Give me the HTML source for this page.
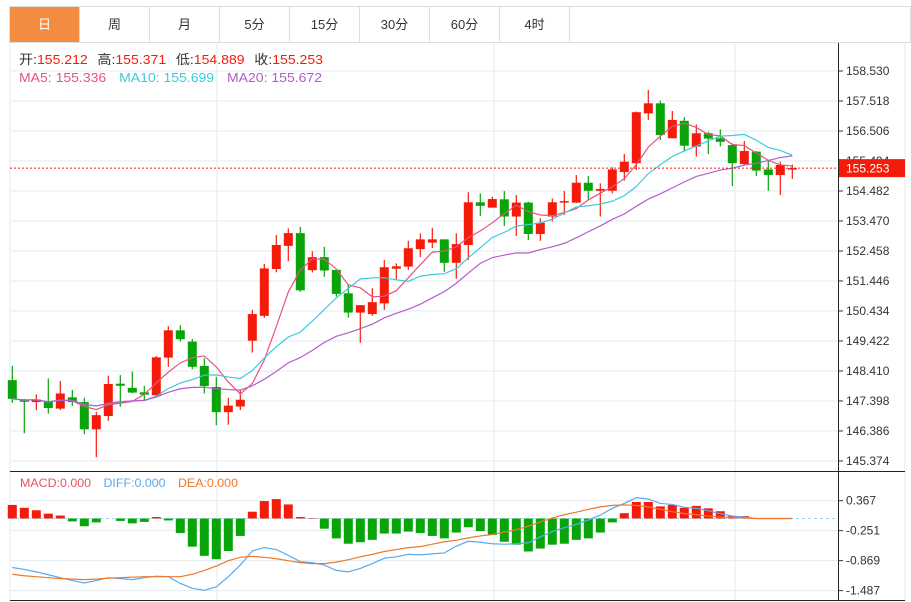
<!DOCTYPE html>
<html><head><meta charset="utf-8"><style>
body{margin:0;background:#fff;width:911px;height:602px;overflow:hidden;font-family:"Liberation Sans","Noto Sans CJK SC",sans-serif}
#tabs{position:absolute;left:9px;top:6px;height:37px;display:flex;border:1px solid #ddd;width:902px;box-sizing:border-box}
.tab{width:70px;height:35px;line-height:35px;text-align:center;font-size:13px;color:#333;border-right:1px solid #ddd;box-sizing:border-box}
.tab.on{background:#f28c3f;color:#fff}
svg{position:absolute;left:0;top:0}
</style></head><body>
<div id="tabs">
<div class="tab on">日</div>
<div class="tab">周</div>
<div class="tab">月</div>
<div class="tab">5分</div>
<div class="tab">15分</div>
<div class="tab">30分</div>
<div class="tab">60分</div>
<div class="tab">4时</div>
</div>
<svg id="c" width="911" height="602"></svg>
<script>
const opens=[148.10,147.42,147.36,147.39,147.14,147.52,147.36,146.44,146.89,147.98,147.84,147.69,147.59,148.86,149.78,149.40,148.58,147.87,147.02,147.21,149.43,150.27,151.85,152.63,153.06,151.81,152.25,151.82,151.03,150.38,150.33,150.69,151.86,151.93,152.52,152.74,152.85,152.06,152.66,154.10,153.92,154.20,153.62,154.09,153.03,153.62,154.09,154.09,154.76,154.49,154.49,155.12,155.42,157.10,157.44,156.26,156.85,155.98,156.43,156.26,156.03,155.39,155.81,155.21,155.02,155.212];
const highs=[148.58,147.47,147.62,148.16,148.07,147.77,147.51,147.03,148.25,148.27,148.39,147.91,148.91,149.92,149.95,149.49,148.84,148.21,147.50,147.77,150.47,152.02,153.00,153.22,153.27,152.45,152.60,151.82,151.31,150.63,151.20,152.15,152.04,152.80,153.05,153.24,152.85,153.05,154.44,154.40,154.29,154.48,154.35,154.12,153.56,154.23,154.48,155.02,154.99,154.74,155.28,155.73,157.16,157.89,157.53,157.18,156.97,156.73,156.48,156.56,156.09,156.17,155.83,155.53,155.47,155.371];
const lows=[147.34,146.31,147.09,146.97,147.09,147.23,146.28,145.50,146.73,147.20,147.66,147.43,147.52,148.55,149.40,148.47,147.65,146.58,146.60,147.09,149.03,150.20,151.74,152.11,151.08,151.73,151.59,150.92,150.21,149.36,150.27,150.47,151.50,151.82,152.25,152.56,151.76,151.52,152.15,153.64,153.92,153.30,152.96,152.83,152.80,153.45,153.67,154.07,154.16,153.62,154.40,154.83,155.19,156.88,156.20,156.26,155.81,155.64,155.73,155.98,154.65,155.36,154.99,154.49,154.35,154.889];
const closes=[147.47,147.39,147.45,147.16,147.65,147.36,146.44,146.92,147.97,147.91,147.68,147.61,148.87,149.78,149.48,148.55,147.90,147.02,147.24,147.44,150.33,151.87,152.66,153.06,151.13,152.25,151.80,151.01,150.38,150.63,150.73,151.91,151.94,152.55,152.85,152.85,152.06,152.69,154.10,153.98,154.21,153.62,154.09,153.03,153.41,154.10,154.14,154.76,154.49,154.55,155.21,155.47,157.14,157.44,156.37,156.88,156.01,156.43,156.25,156.14,155.42,155.83,155.17,155.02,155.36,155.253];
const macdHist=[0.28,0.22,0.17,0.10,0.06,-0.06,-0.16,-0.08,0.00,-0.05,-0.10,-0.07,0.03,-0.04,-0.30,-0.58,-0.77,-0.84,-0.67,-0.36,0.14,0.36,0.40,0.29,0.03,0.01,-0.21,-0.41,-0.52,-0.49,-0.44,-0.31,-0.31,-0.27,-0.30,-0.36,-0.41,-0.29,-0.18,-0.26,-0.34,-0.48,-0.54,-0.68,-0.62,-0.54,-0.52,-0.44,-0.41,-0.29,-0.08,0.11,0.34,0.34,0.25,0.28,0.22,0.26,0.21,0.15,0.05,0.05,0.01,0.00,0.00,0.00];
const diffVals=[-1.01,-1.05,-1.10,-1.16,-1.22,-1.28,-1.33,-1.28,-1.22,-1.24,-1.26,-1.22,-1.19,-1.20,-1.34,-1.44,-1.48,-1.41,-1.20,-0.96,-0.67,-0.60,-0.64,-0.76,-0.89,-0.91,-0.96,-1.07,-1.10,-1.03,-0.93,-0.82,-0.79,-0.74,-0.75,-0.73,-0.71,-0.57,-0.47,-0.49,-0.52,-0.53,-0.52,-0.50,-0.38,-0.27,-0.19,-0.12,-0.03,0.07,0.21,0.31,0.43,0.40,0.31,0.29,0.23,0.21,0.16,0.10,0.05,0.03,0.00,0.00,0.00,0.00];
const deaVals=[-1.15,-1.18,-1.20,-1.22,-1.24,-1.25,-1.26,-1.25,-1.23,-1.22,-1.21,-1.20,-1.20,-1.20,-1.20,-1.15,-1.07,-0.98,-0.87,-0.80,-0.78,-0.80,-0.83,-0.87,-0.91,-0.93,-0.93,-0.90,-0.85,-0.79,-0.74,-0.68,-0.64,-0.60,-0.58,-0.53,-0.48,-0.45,-0.40,-0.36,-0.33,-0.28,-0.23,-0.16,-0.07,0.01,0.08,0.13,0.19,0.24,0.27,0.28,0.27,0.24,0.19,0.14,0.10,0.08,0.05,0.03,0.02,0.01,0.00,0.00,0.00,0.00];
const priceTicks=[158.530,157.518,156.506,155.494,154.482,153.470,152.458,151.446,150.434,149.422,148.410,147.398,146.386,145.374];
const macdTicks=[0.367,-0.251,-0.869,-1.487];
const lastPrice=155.253;

const NS='http://www.w3.org/2000/svg';
const svg=document.getElementById('c');
function el(tag,attrs,parent){const e=document.createElementNS(NS,tag);for(const k in attrs)e.setAttribute(k,attrs[k]);(parent||svg).appendChild(e);return e;}
const xAt=i=>12.3+12*i;
const yP=p=>71+(158.53-p)*29.64;
const yM=v=>518.5-v*48.5;
const RED='#f41b0b',GREEN='#08a40a';

const grid=el('g',{});


priceTicks.forEach(t=>el('line',{x1:10,x2:838,y1:yP(t),y2:yP(t),stroke:'#e3ebf2','stroke-width':1},grid));
macdTicks.forEach(t=>el('line',{x1:10,x2:838,y1:yM(t),y2:yM(t),stroke:'#e3ebf2','stroke-width':1},grid));
[217,494,735].forEach(x=>el('line',{x1:x,x2:x,y1:43,y2:601,stroke:'#e3ebf2','stroke-width':1},grid));
el('line',{x1:10,x2:10,y1:43,y2:601,stroke:'#e3ebf2'},grid);
el('line',{x1:905,x2:905,y1:43,y2:601,stroke:'#e3ebf2'},grid);
el('line',{x1:838.5,x2:838.5,y1:43,y2:601,stroke:'#222'},grid);
el('line',{x1:10,x2:905,y1:471.5,y2:471.5,stroke:'#222'},grid);
el('line',{x1:10,x2:905,y1:600.5,y2:600.5,stroke:'#222'},grid);

const pax=el('g',{'font-size':12,fill:'#333'});


priceTicks.forEach(t=>{const y=yP(t);el('line',{x1:838,x2:843,y1:y,y2:y,stroke:'#333'},pax);const tx=el('text',{x:846,y:y+4},pax);tx.textContent=t.toFixed(3);});
const max=el('g',{'font-size':12,fill:'#333'});


macdTicks.forEach(t=>{const y=yM(t);el('line',{x1:838,x2:843,y1:y,y2:y,stroke:'#333'},max);const tx=el('text',{x:846,y:y+4},max);tx.textContent=t.toFixed(3);});

const cg=el('g',{});


for(let i=0;i<closes.length;i++){
  const up=closes[i]>=opens[i],c=up?RED:GREEN,x=xAt(i);
  const g=el('g',{},cg);
  
  
  el('line',{x1:x,x2:x,y1:yP(highs[i]),y2:yP(lows[i]),stroke:c,'stroke-width':1.2},g);
  const t=yP(Math.max(opens[i],closes[i])),b=yP(Math.min(opens[i],closes[i]));
  el('rect',{x:x-4.5,y:t,width:9,height:Math.max(1.5,b-t),fill:c},g);
}
function ma(n){return closes.map((_,i)=>{const s=Math.max(0,i-n+1);let sum=0;for(let k=s;k<=i;k++)sum+=closes[k];return sum/(i-s+1);});}
[[5,'#e8527f','ma5-line'],[10,'#3ccbdc','ma10-line'],[20,'#b45ccc','ma20-line']].forEach(([n,col,name])=>{
  const v=ma(n);const p=el('path',{d:v.map((m,i)=>(i?'L':'M')+xAt(i)+','+yP(m)).join(''),fill:'none',stroke:col,'stroke-width':1.2});
  
  
});
const lp=el('line',{x1:10,x2:838,y1:yP(lastPrice),y2:yP(lastPrice),stroke:RED,'stroke-dasharray':'2,2'});


const lb=el('rect',{x:839,y:yP(lastPrice)-9,width:66,height:18,fill:RED});


const lt=el('text',{x:846,y:yP(lastPrice)+4.5,'font-size':12,fill:'#fff'});lt.textContent=lastPrice.toFixed(3);

const hg=el('g',{});


el('line',{x1:10,x2:838,y1:yM(0),y2:yM(0),stroke:'#9fd8ee','stroke-dasharray':'3,3'},hg);
macdHist.forEach((v,i)=>{
  const y0=yM(0),y1=yM(v);
  const r=el('rect',{x:xAt(i)-4.5,y:Math.min(y0,y1),width:9,height:Math.abs(y1-y0),fill:v>=0?RED:GREEN},hg);
  
  
});
[[diffVals,'#5aa9ef','diff-line'],[deaVals,'#f0782a','dea-line']].forEach(([arr,col,name])=>{
  const p=el('path',{d:arr.map((v,i)=>(i?'L':'M')+xAt(i)+','+yM(v)).join(''),fill:'none',stroke:col,'stroke-width':1.2});
  
  
});
</script>
<svg width="911" height="602" style="pointer-events:none">
<g font-size="13" font-family="Liberation Sans, Noto Sans CJK SC, sans-serif">
<text x="19" y="64" textLength="304" lengthAdjust="spacingAndGlyphs"><tspan fill="#333">开:</tspan><tspan fill="#f41b0b">155.212</tspan><tspan fill="#333" dx="9">高:</tspan><tspan fill="#f41b0b">155.371</tspan><tspan fill="#333" dx="9">低:</tspan><tspan fill="#f41b0b">154.889</tspan><tspan fill="#333" dx="9">收:</tspan><tspan fill="#f41b0b">155.253</tspan></text>
<text x="19" y="82" textLength="303" lengthAdjust="spacingAndGlyphs"><tspan fill="#e8527f">MA5: 155.336</tspan><tspan fill="#3ccbdc" dx="12">MA10: 155.699</tspan><tspan fill="#b45ccc" dx="12">MA20: 155.672</tspan></text>
<text x="20" y="487" textLength="218" lengthAdjust="spacingAndGlyphs" font-size="12"><tspan fill="#e8525f">MACD:0.000</tspan><tspan fill="#5aa9ef" dx="12">DIFF:0.000</tspan><tspan fill="#f0782a" dx="12">DEA:0.000</tspan></text>
</g></svg>
</body></html>
